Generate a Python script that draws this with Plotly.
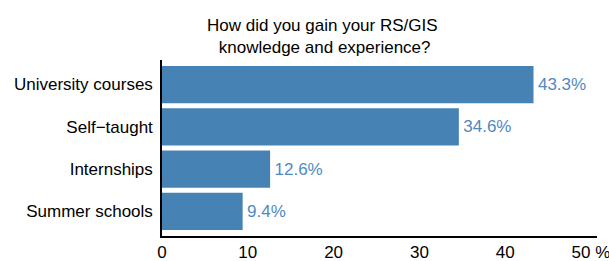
import plotly.graph_objects as go

categories = ["University courses", "Self\u2212taught", "Internships", "Summer schools"]
values = [43.3, 34.6, 12.6, 9.4]
labels = ["43.3%", "34.6%", "12.6%", "9.4%"]
tick_vals = [0, 10, 20, 30, 40, 50]
tick_text = ["0", "10", "20", "30", "40", "50 %"]

FONT = "Liberation Sans, Arial, sans-serif"

fig = go.Figure(go.Bar(
    x=values, y=categories, orientation="h",
    marker=dict(color="#4682B4", line=dict(width=0)),
    width=0.88,
    text=["\u200a" + t for t in labels], textposition="outside",
    textfont=dict(color="#5089C2", size=17, family=FONT),
    cliponaxis=False,
))

fig.add_annotation(
    text="How did you gain your RS/GIS<br> knowledge and experience?",
    xref="paper", yref="paper", x=0.368, y=1.133,
    xanchor="center", yanchor="middle", showarrow=False,
    font=dict(size=17, family=FONT, color="black"),
)

fig.update_layout(
    width=609, height=261,
    margin=dict(l=162, r=12, t=60, b=25),
    plot_bgcolor="white", paper_bgcolor="white",
    showlegend=False,
    font=dict(family=FONT, size=17, color="black"),
)
fig.update_xaxes(range=[0, 50.7], tickvals=tick_vals, ticktext=tick_text,
                 showline=True, linecolor="black", linewidth=1.5,
                 showgrid=False, zeroline=False, ticks="", automargin=False,
                 ticklabeloverflow="allow",
                 tickfont=dict(size=17, family=FONT, color="black"))
fig.update_yaxes(categoryorder="array", categoryarray=categories[::-1],
                 range=[-0.58, 3.58], automargin=False,
                 showline=True, linecolor="black", linewidth=1.5,
                 showgrid=False, zeroline=False, ticks="",
                 ticklabelstandoff=4,
                 tickfont=dict(size=17, family=FONT, color="black"))

fig.write_html("out.html", config={"displayModeBar": False},
               post_script="document.body.style.margin='0';document.body.style.overflow='hidden';")
